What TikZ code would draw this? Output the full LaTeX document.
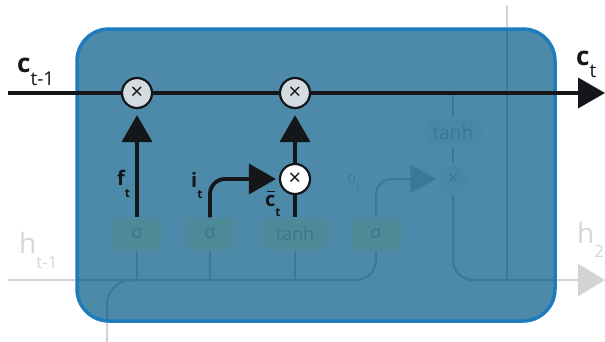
\documentclass[tikz,border=0pt]{standalone}
\usepackage{fontspec}
\setmainfont{Open Sans}
\usetikzlibrary{arrows.meta}

\definecolor{ink}{RGB}{20,22,26}
\definecolor{cellfill}{RGB}{28,106,146}
\definecolor{cellrim}{RGB}{30,124,188}
\definecolor{wireout}{RGB}{212,212,212}
\definecolor{wirein}{RGB}{178,178,178}
\definecolor{layerfill}{RGB}{250,252,175}
\definecolor{layerrim}{RGB}{255,255,235}
\definecolor{layertext}{RGB}{150,168,130}
\definecolor{opfill}{RGB}{238,242,246}
\definecolor{optext}{RGB}{150,172,188}
\definecolor{mulgrey}{RGB}{212,220,226}
\definecolor{ghosttext}{RGB}{214,214,214}

% bar over a letter, drawn as a thin rule
\newcommand\cbar{\makebox[0pt][l]{\hspace{0.07em}\raisebox{0.68em}{\rule{0.42em}{0.07em}}}c}

% the faded wiring of the cell, drawn in colour #1
\newcommand\ghostwires[1]{%
  \begin{scope}[line width=2pt, draw=#1, fill=#1]
    \draw[rounded corners=20pt] (hin) -| (s4.south);
    \draw[rounded corners=24pt] (xin) |- (xj);
    \draw (s1.south) -- (s1.south |- hin);
    \draw (s2.south) -- (s2.south |- hin);
    \draw (s3.south) -- (s3.south |- hin);
    \draw (tap) -- (th.north);
    \draw (th.south) -- (og.north);
    \draw (hj) -- (hup);
    \draw[rounded corners=20pt, -{Triangle[length=27pt,width=32pt]}] (og.south) |- (hout);
    \draw[rounded corners=16pt, -{Triangle[length=26pt,width=28pt]}, shorten >=1pt] (s4.north) |- (og.west);
  \end{scope}}

\tikzset{
  wire/.style={draw=ink, line width=3.8pt},
  tip/.style={-{Triangle[length=27pt,width=30pt]}},
  mulop/.style={circle, draw=ink, line width=2.2pt, fill=mulgrey, minimum size=30pt,
    inner sep=0pt, text=ink, font=\fontsize{22}{22}\selectfont},
  layer/.style={rectangle, rounded corners=4pt, draw=layerrim, line width=1.5pt,
    fill=layerfill, minimum height=32pt, inner sep=0pt, text=layertext,
    font=\fontsize{18}{18}\selectfont},
  ghostcap/.style={rectangle, rounded corners=14pt, draw=white, line width=1.5pt,
    fill=opfill, minimum width=60pt, minimum height=28pt, inner sep=0pt,
    text=optext, font=\fontsize{19}{19}\selectfont},
  ghostop/.style={circle, draw=white, line width=1.5pt, fill=opfill, minimum size=30pt,
    inner sep=0pt, text=optext, font=\fontsize{21}{21}\selectfont},
  lbl/.style={anchor=base west, inner sep=0pt, text=ink,
    font=\fontsize{20}{20}\selectfont\bfseries},
  biglbl/.style={anchor=base west, inner sep=0pt, text=ink,
    font=\fontsize{26}{26}\selectfont\bfseries},
  ghostlbl/.style={anchor=base west, inner sep=0pt, text=ghosttext,
    font=\fontsize{28}{28}\selectfont},
}

\begin{document}
\begin{tikzpicture}[x=1pt, y=-1pt]
  \useasboundingbox (0,0) rectangle (605,341);
  \fill[white] (0,0) rectangle (605,341);

  % faded layers and pointwise ops
  \node[layer, minimum width=50pt] (s1) at (137,234) {σ};
  \node[layer, minimum width=50pt] (s2) at (210,234) {σ};
  \node[layer, minimum width=64pt] (s3) at (295,234) {tanh};
  \node[layer, minimum width=52pt] (s4) at (376,234) {σ};
  \node[ghostcap] (th) at (453,132) {tanh};
  \node[ghostop] (og) at (453,179) {×};
  \node[anchor=base west, inner sep=0pt, text=wirein, font=\fontsize{15}{15}\selectfont]
    (olbl) at (347,183) {o\raisebox{-6pt}{\fontsize{10}{10}\selectfont t}};

  \node[ghostlbl] (hprev) at (19,253) {h\raisebox{-15pt}{\fontsize{17}{17}\selectfont t-1}};
  \node[ghostlbl] (hnext) at (577,243) {h\raisebox{-14pt}{\fontsize{17}{17}\selectfont 2}};

  % wiring end points
  \coordinate (hin) at (8,280);
  \coordinate (xin) at (107,345);
  \coordinate (xj) at (137,280);
  \coordinate (tap) at (453,93);
  \coordinate (hout) at (605,280);
  \coordinate (hj) at (507,280);
  \coordinate (hup) at (507,5);
  \coordinate (cnw) at (77,29);
  \coordinate (cse) at (555,321);

  \ghostwires{wireout}
  \begin{scope}
    \clip[rounded corners=32pt] (cnw) rectangle (cse);
    \ghostwires{wirein}
  \end{scope}

  % translucent cell body
  \fill[cellfill, fill opacity=0.78, rounded corners=32pt] (cnw) rectangle (cse);
  \draw[cellrim, line width=3.5pt, rounded corners=32pt] (cnw) rectangle (cse);

  % cell state path
  \node[mulop] (m1) at (137,93) {×};
  \node[mulop] (m2) at (295,93) {×};
  \node[mulop, fill=white] (m3) at (295,179) {×};
  \coordinate (cin) at (8,93);
  \coordinate (cout) at (605,93);

  \draw[wire] (cin) -- (m1);
  \draw[wire] (m1) -- (m2);
  \draw[wire, tip] (m2) -- (cout);
  \draw[wire, tip, shorten >=6pt] (s1.north) -- (m1.south);
  \draw[wire, tip, rounded corners=15pt, shorten >=3pt] (s2.north) |- (m3.west);
  \draw[wire] (s3.north) -- (m3.south);
  \draw[wire, tip, shorten >=6pt] (m3.north) -- (m2.south);

  % labels
  \node[lbl] (flbl) at (117,185) {f\raisebox{-12pt}{\fontsize{12}{12}\selectfont t}};
  \node[lbl] (ilbl) at (191,187) {i\raisebox{-11pt}{\fontsize{12}{12}\selectfont t}};
  \node[lbl] (cblbl) at (265,206) {\cbar\raisebox{-10pt}{\fontsize{12}{12}\selectfont t}};
  \node[biglbl] (cprev) at (17,72) {c\raisebox{-13pt}{\fontsize{19}{19}\selectfont\mdseries t-1}};
  \node[biglbl] (cnext) at (576,65) {c\raisebox{-12pt}{\fontsize{19}{19}\selectfont\mdseries t}};
\end{tikzpicture}
\end{document}
